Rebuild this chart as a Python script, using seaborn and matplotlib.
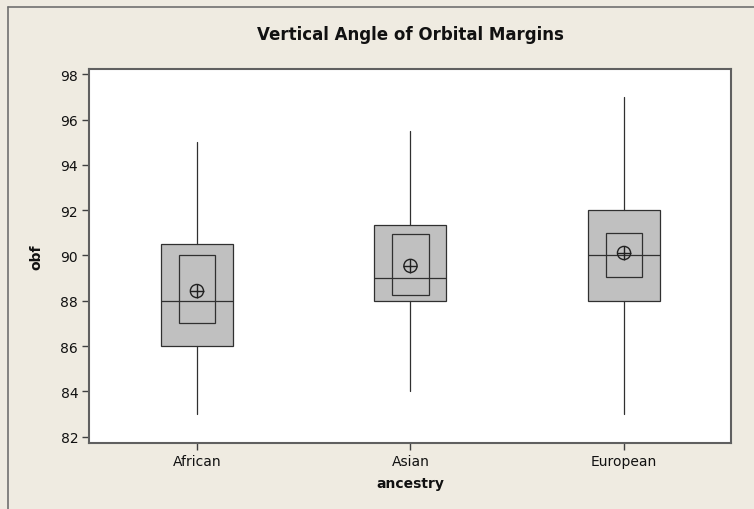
import matplotlib
matplotlib.use("Agg")
import matplotlib.pyplot as plt
from matplotlib.lines import Line2D
import seaborn as sns
import pandas as pd

categories = ["African", "Asian", "European"]
whisker_low = [83.0, 84.0, 83.0]
q1 = [86.0, 88.0, 88.0]
median = [88.0, 89.0, 90.0]
q3 = [90.5, 91.35, 92.0]
whisker_high = [95.0, 95.5, 97.0]
ci_low = [87.0, 88.26, 89.04]
ci_high = [90.0, 90.96, 90.98]
means = [88.43, 89.54, 90.11]
yticks = [82, 84, 86, 88, 90, 92, 94, 96, 98]

sns.set_theme(style="white")
plt.rcParams['font.family'] = ['DejaVu Sans']

bg = "#efebe1"
fig = plt.figure(figsize=(7.54, 5.10), dpi=100, facecolor=bg)
ax = fig.add_axes([89.3/754, (510-443.7)/510, (731-89.3)/754, (443.7-70.3)/510])
ax.set_facecolor("white")

pos = list(range(len(categories)))
stats = []
for i, c in enumerate(categories):
    stats.append(dict(label=c, whislo=whisker_low[i], q1=q1[i], med=median[i],
                      q3=q3[i], whishi=whisker_high[i], fliers=[]))
ax.bxp(stats, positions=pos, widths=0.337, patch_artist=True, showcaps=False,
       boxprops=dict(facecolor="#c0c0c0", edgecolor="#303030", linewidth=0.9),
       medianprops=dict(color="#303030", linewidth=0.9),
       whiskerprops=dict(color="#303030", linewidth=0.9), manage_ticks=False)

df = pd.DataFrame({"cat": pos, "lo": ci_low, "hi": ci_high, "mean": means})
ax.bar(df["cat"], df["hi"] - df["lo"], bottom=df["lo"], width=0.169,
       facecolor="none", edgecolor="#303030", linewidth=0.9, zorder=4)
sns.scatterplot(data=df, x="cat", y="mean", ax=ax, marker="o", s=90,
                facecolor="none", edgecolor="#202020", linewidth=1.0, zorder=5)
sns.scatterplot(data=df, x="cat", y="mean", ax=ax, marker="+", s=90,
                color="#202020", linewidth=1.0, zorder=5)

ax.set_xlim(-0.504, 2.501)
ax.set_ylim(81.735, 98.22)
ax.set_xticks(pos)
ax.set_xticklabels(categories)
ax.set_yticks(yticks)
ax.tick_params(axis="both", which="both", direction="out", length=5, width=1,
               color="#404040", labelsize=10, labelcolor="#111111", pad=3,
               left=True, bottom=True)
for s in ax.spines.values():
    s.set_color("#606060")
    s.set_linewidth(1.5)

ax.set_xlabel("ancestry", fontsize=10, fontweight="bold", color="#111111", labelpad=6)
ax.set_ylabel("obf", fontsize=10, fontweight="bold", color="#111111", labelpad=12)
fig.text(410/754, 1 - 35/510, "Vertical Angle of Orbital Margins", ha="center",
         va="center", fontsize=12, fontweight="bold", color="#111111")

fig.add_artist(Line2D([7.5/754, 7.5/754], [0, 1 - 7.5/510], transform=fig.transFigure,
                      color="#707070", linewidth=1.2))
fig.add_artist(Line2D([7.5/754, 1], [1 - 7.5/510, 1 - 7.5/510], transform=fig.transFigure,
                      color="#707070", linewidth=1.2))

fig.savefig("out.png", dpi=100, facecolor=bg)
